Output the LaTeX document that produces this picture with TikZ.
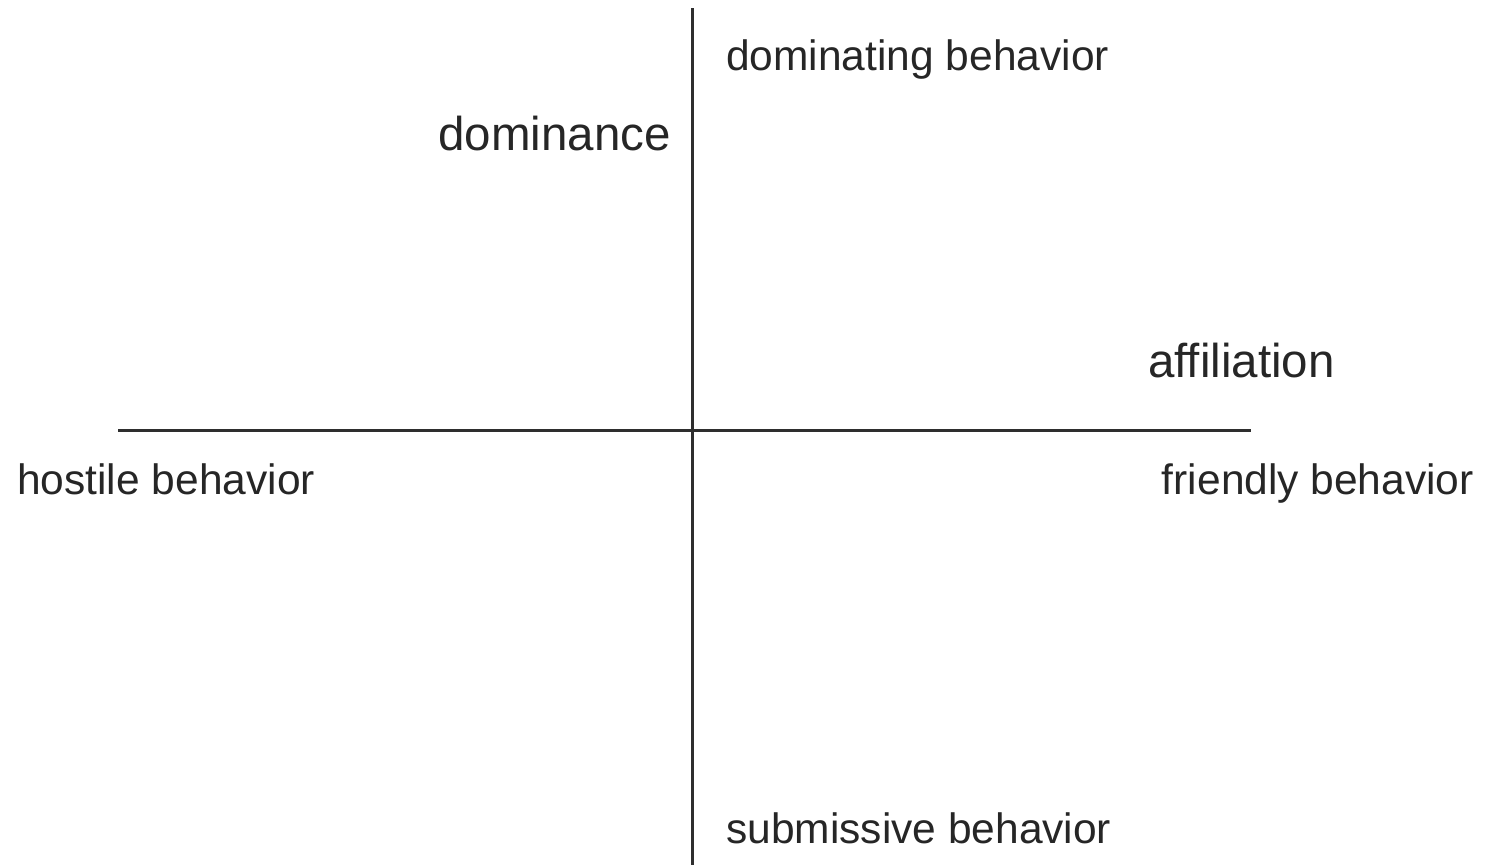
\documentclass[tikz,border=0pt]{standalone}
\usepackage{fontspec}
\setmainfont{Liberation Sans}
\begin{document}
\begin{tikzpicture}[x=1pt,y=-1pt,
  axis/.style={draw=black!82,line width=3pt},
  small/.style={inner sep=0pt,text=black!85,font=\fontsize{42.5}{48}\selectfont},
  big/.style={inner sep=0pt,text=black!85,font=\fontsize{47.5}{54}\selectfont}]
\useasboundingbox (0,0) rectangle (1496,865);
\coordinate (vt) at (692,8);
\coordinate (vb) at (692,865);
\coordinate (hl) at (118,430);
\coordinate (hr) at (1251,430);
\draw[axis] (vt) -- (vb);
\draw[axis] (hl) -- (hr);
\node[small,anchor=base west] (dom) at (726,70) {dominating behavior};
\node[big,anchor=base east] (dm) at (671,150) {dominance};
\node[big,anchor=base west] (aff) at (1148,377) {affiliation};
\node[small,anchor=base west] (host) at (17,494) {hostile behavior};
\node[small,anchor=base east] (fr) at (1474,494) {friendly behavior};
\node[small,anchor=base west] (sub) at (726,843) {submissive behavior};
\end{tikzpicture}
\end{document}
